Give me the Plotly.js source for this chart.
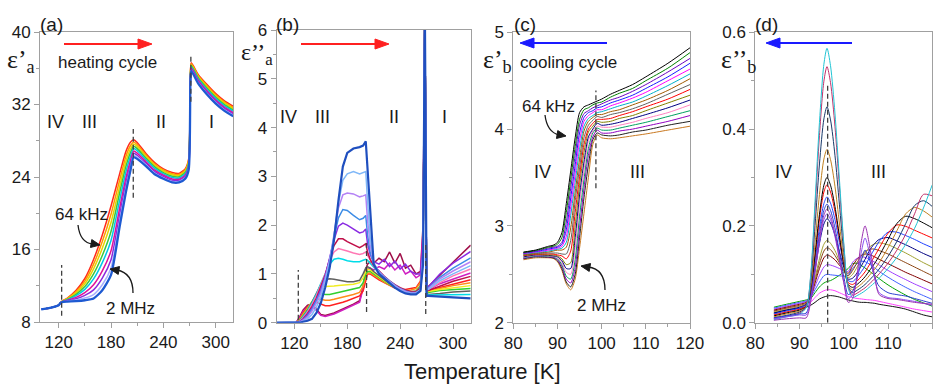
<!DOCTYPE html>
<html><head><meta charset="utf-8">
<script src="https://cdn.plot.ly/plotly-3.0.1.min.js"></script>
<style>html,body{margin:0;padding:0;background:#fff}#chart{width:945px;height:384px}</style>
</head><body><div id="chart"></div>
<script>
// ---------- Panel (a): eps'_a, heating ----------
const tA = [100,110,120,122,124,130,140,150,160,170,180,190,197,202,206,210,220,230,240,250,258,265,269,271,272,280,290,300,310,320];
const aRed     = [9.4,9.55,9.85,10.1,10.3,10.65,11.5,12.8,14.9,17.6,20.8,24.4,26.8,27.8,28.1,27.8,26.6,25.6,24.9,24.5,24.4,24.9,26.0,35.5,36.6,35.3,34.2,33.2,32.4,31.8];
const aOrange  = [9.4,9.55,9.85,10.1,10.29,10.60,11.36,12.51,14.38,16.87,19.89,23.7,26.26,27.42,27.87,27.58,26.43,25.44,24.77,24.37,24.28,24.77,25.86,35.38,36.49,35.18,34.07,33.07,32.27,31.67];
const aYellow  = [9.4,9.55,9.85,10.1,10.28,10.55,11.21,12.22,13.87,16.14,18.98,23.0,25.72,27.03,27.64,27.37,26.26,25.29,24.64,24.24,24.16,24.64,25.71,35.26,36.38,35.06,33.94,32.94,32.14,31.54];
const aGreen   = [9.4,9.55,9.85,10.1,10.26,10.50,11.06,11.91,13.31,15.34,17.99,22.3,25.14,26.62,27.4,27.13,26.08,25.12,24.49,24.09,24.03,24.49,25.56,35.13,36.27,34.93,33.79,32.79,31.99,31.39];
const aCyan    = [9.4,9.55,9.85,10.1,10.25,10.45,10.9,11.6,12.75,14.55,17.0,21.5,24.55,26.2,27.15,26.9,25.9,24.95,24.35,23.95,23.9,24.35,25.4,35.0,36.15,34.8,33.65,32.65,31.85,31.25];
const aMagenta = [9.4,9.55,9.85,10.1,10.24,10.39,10.72,11.24,12.11,13.64,15.86,20.63,23.88,25.72,26.87,26.63,25.69,24.75,24.19,23.79,23.75,24.19,25.22,34.85,36.02,34.65,33.49,32.49,31.69,31.09];
const aPurple  = [9.4,9.55,9.85,10.1,10.22,10.34,10.56,10.93,11.55,12.84,14.87,19.88,23.29,25.3,26.62,26.4,25.51,24.59,24.04,23.64,23.62,24.04,25.06,34.72,35.9,34.52,33.34,32.34,31.54,30.94];
const aLav     = [9.4,9.55,9.85,10.1,10.21,10.29,10.42,10.64,11.03,12.11,13.96,19.18,22.75,24.92,26.39,26.18,25.34,24.43,23.91,23.51,23.5,23.91,24.92,34.6,35.79,34.4,33.21,32.21,31.41,30.81];
const aBlue    = [9.4,9.55,9.85,10.1,10.2,10.25,10.3,10.4,10.6,11.5,13.2,18.6,22.3,24.6,26.2,26.0,25.2,24.3,23.8,23.4,23.4,23.8,24.8,34.5,35.7,34.3,33.1,32.1,31.3,30.7];

// ---------- Panel (b): eps''_a, heating ----------
const tB = [100,122,126,130,135,140,145,150,155,160,165,170,175,180,187,194,198,201,203,206,210,216,222,228,234,240,246,252,258,263,266,268,270,272,285,300,320];
const bWine   = [0,0,0.12,0.26,0.36,0.38,0.28,0.17,0.15,0.17,0.2,0.24,0.28,0.32,0.38,0.45,0.75,1.1,1.2,1.25,1.22,1.32,1.25,1.45,1.22,1.42,1.12,1.18,1.0,1.05,2.0,6.5,0.75,0.74,0.98,1.24,1.59];
const bMag    = [0,0,0.1,0.23,0.33,0.35,0.25,0.15,0.13,0.15,0.18,0.22,0.26,0.3,0.36,0.42,0.7,1.02,1.1,1.12,1.08,1.15,1.1,1.22,1.08,1.18,1.0,1.06,0.92,0.98,1.9,6.5,0.7,0.68,0.8,0.9,1.02];
const bRed    = [0,0,0.07,0.2,0.32,0.4,0.42,0.38,0.35,0.35,0.37,0.4,0.42,0.45,0.5,0.55,0.65,0.9,1.0,1.0,0.95,0.88,0.82,0.76,0.71,0.68,0.68,0.7,0.72,0.85,1.6,6.5,0.68,0.66,0.72,0.8,0.88];
const bOrange = [0,0,0.06,0.18,0.3,0.42,0.48,0.48,0.46,0.46,0.48,0.5,0.52,0.55,0.58,0.62,0.75,0.95,1.02,1.02,0.97,0.9,0.83,0.77,0.72,0.68,0.66,0.67,0.7,0.82,1.5,6.5,0.66,0.64,0.7,0.76,0.82];
const bGreen  = [0,0,0.05,0.16,0.29,0.43,0.55,0.6,0.58,0.58,0.6,0.62,0.64,0.66,0.68,0.72,0.82,1.0,1.05,1.05,1.0,0.92,0.85,0.78,0.72,0.67,0.64,0.63,0.65,0.75,1.5,6.5,0.64,0.62,0.66,0.68,0.7];
const bYellow = [0,0,0.05,0.15,0.28,0.43,0.58,0.7,0.74,0.74,0.75,0.76,0.77,0.78,0.79,0.82,0.92,1.05,1.1,1.08,1.02,0.94,0.86,0.79,0.73,0.68,0.64,0.62,0.63,0.72,1.4,6.5,0.66,0.64,0.68,0.72,0.76];
const bGray   = [0,0,0.04,0.13,0.26,0.42,0.6,0.78,0.88,0.9,0.89,0.87,0.85,0.84,0.84,0.87,1.0,1.12,1.15,1.12,1.05,0.96,0.88,0.8,0.74,0.68,0.64,0.62,0.62,0.7,1.4,6.5,0.6,0.58,0.6,0.63,0.65];
const bCyan   = [0,0,0.03,0.12,0.24,0.4,0.58,0.8,1.02,1.2,1.3,1.32,1.3,1.27,1.25,1.25,1.28,1.3,1.28,1.22,1.13,1.02,0.92,0.83,0.76,0.7,0.65,0.62,0.61,0.66,1.3,6.5,0.58,0.57,0.57,0.57,0.58];
const bPink   = [0,0,0.03,0.1,0.22,0.37,0.55,0.76,1.0,1.28,1.45,1.52,1.5,1.47,1.43,1.4,1.42,1.45,1.38,1.28,1.16,1.04,0.93,0.84,0.77,0.7,0.65,0.62,0.62,0.7,1.4,6.5,0.68,0.68,0.82,0.96,1.1];
const bCrimson= [0,0,0.02,0.08,0.19,0.33,0.5,0.72,0.98,1.3,1.58,1.72,1.72,1.66,1.6,1.54,1.58,1.62,1.45,1.3,1.17,1.05,0.95,0.86,0.78,0.72,0.67,0.64,0.64,0.72,1.5,6.5,0.66,0.66,0.75,0.85,0.95];
const bPurple = [0,0,0.02,0.07,0.17,0.3,0.47,0.68,0.95,1.3,1.7,1.98,2.04,2.0,1.92,1.84,1.86,1.92,1.62,1.4,1.25,1.2,1.3,1.15,1.26,1.1,1.2,1.05,1.0,1.0,1.6,6.5,0.74,0.73,1.0,1.22,1.46];
const bBlue   = [0,0,0.01,0.06,0.14,0.27,0.44,0.64,0.92,1.28,1.75,2.15,2.32,2.3,2.2,2.11,2.14,2.2,1.8,1.45,1.2,1.05,0.94,0.85,0.77,0.7,0.65,0.62,0.62,0.68,1.5,6.5,0.72,0.71,0.93,1.12,1.33];
const bLav    = [0,0,0.01,0.05,0.12,0.24,0.4,0.6,0.9,1.27,1.78,2.35,2.62,2.66,2.64,2.58,2.6,2.62,2.1,1.6,1.22,1.04,0.93,0.84,0.76,0.69,0.64,0.61,0.61,0.67,1.4,6.5,0.7,0.7,0.9,1.06,1.25];
const bLight  = [0,0,0.01,0.03,0.08,0.17,0.32,0.52,0.84,1.24,1.78,2.45,2.92,3.05,3.1,3.05,3.08,3.1,2.5,1.75,1.22,1.02,0.92,0.82,0.74,0.67,0.62,0.6,0.6,0.68,1.3,6.5,0.68,0.68,0.86,1.0,1.17];
const bDark   = [0,0,0,0.02,0.04,0.08,0.2,0.4,0.72,1.12,1.7,2.5,3.2,3.48,3.57,3.6,3.63,3.72,3.1,2.3,1.2,1.0,0.9,0.8,0.72,0.65,0.6,0.58,0.58,0.65,1.2,6.5,0.55,0.55,0.53,0.52,0.5];

// ---------- Panel (c): eps'_b, cooling (64 kHz -> 2 MHz) ----------
const tC = [82.3,85,88,89,90,91,92,93,94,95,96,97,98,99,100,102,104,107,110,115,120];
const c00 = [2.73,2.75,2.79,2.80,2.83,2.93,3.23,3.57,3.91,4.17,4.23,4.25,4.27,4.29,4.31,4.36,4.40,4.46,4.54,4.68,4.84];
const c01 = [2.725,2.745,2.78,2.79,2.81,2.88,3.14,3.48,3.82,4.1,4.2,4.22,4.25,4.27,4.28,4.33,4.37,4.42,4.50,4.63,4.79];
const c02 = [2.72,2.74,2.77,2.78,2.79,2.83,3.04,3.39,3.73,4.04,4.16,4.19,4.22,4.24,4.26,4.30,4.33,4.39,4.46,4.59,4.73];
const c03 = [2.72,2.735,2.76,2.77,2.78,2.81,2.96,3.29,3.63,3.96,4.12,4.17,4.19,4.22,4.23,4.27,4.30,4.35,4.42,4.54,4.68];
const c04 = [2.715,2.73,2.75,2.76,2.77,2.79,2.89,3.2,3.54,3.88,4.08,4.14,4.17,4.20,4.20,4.24,4.27,4.32,4.38,4.50,4.62];
const c05 = [2.71,2.725,2.74,2.75,2.76,2.77,2.83,3.11,3.45,3.79,4.03,4.11,4.14,4.17,4.18,4.21,4.24,4.28,4.34,4.45,4.57];
const c06 = [2.705,2.72,2.73,2.74,2.75,2.75,2.78,2.98,3.35,3.69,3.98,4.08,4.12,4.15,4.15,4.18,4.20,4.25,4.30,4.40,4.52];
const c07 = [2.70,2.715,2.72,2.72,2.72,2.71,2.71,2.85,3.26,3.6,3.91,4.04,4.09,4.13,4.12,4.15,4.17,4.21,4.26,4.36,4.46];
const c08 = [2.695,2.71,2.71,2.71,2.70,2.69,2.66,2.74,3.14,3.51,3.84,4.0,4.06,4.10,4.10,4.11,4.14,4.18,4.23,4.31,4.41];
const c09 = [2.69,2.705,2.70,2.70,2.69,2.66,2.60,2.62,3.0,3.42,3.76,3.97,4.03,4.08,4.07,4.08,4.11,4.14,4.19,4.27,4.35];
const c10 = [2.68,2.70,2.695,2.69,2.68,2.64,2.56,2.56,2.88,3.32,3.66,3.92,4.0,4.06,4.04,4.05,4.07,4.11,4.15,4.22,4.30];
const c11 = [2.675,2.695,2.69,2.685,2.67,2.62,2.52,2.50,2.77,3.23,3.57,3.88,3.98,4.03,4.02,4.02,4.04,4.07,4.11,4.17,4.25];
const c12 = [2.67,2.69,2.685,2.68,2.66,2.60,2.48,2.45,2.65,3.1,3.48,3.8,3.96,4.01,3.99,3.99,4.01,4.04,4.07,4.13,4.19];
const c13 = [2.665,2.685,2.68,2.675,2.65,2.58,2.45,2.41,2.57,2.98,3.39,3.73,3.92,3.99,3.96,3.96,3.98,4.00,4.03,4.08,4.14];
const c14 = [2.66,2.68,2.675,2.67,2.64,2.56,2.42,2.37,2.50,2.88,3.29,3.63,3.89,3.96,3.94,3.93,3.94,3.97,3.99,4.04,4.08];
const c15 = [2.65,2.67,2.67,2.665,2.63,2.54,2.40,2.34,2.45,2.77,3.13,3.5,3.84,3.94,3.91,3.90,3.91,3.93,3.95,3.99,4.03];

// ---------- Panel (d): eps''_b, cooling ----------
const tD = [84.2,87,90,91.5,92.5,93.5,94.5,95.5,96.2,97,98,99,100,101,102,103,104,104.8,106,107,108,110,112,114,116,118,120];
const d00 = [0.006,0.012,0.018,0.031,0.097,0.25,0.414,0.534,0.567,0.531,0.433,0.298,0.164,0.071,0.052,0.056,0.061,0.066,0.075,0.083,0.092,0.112,0.135,0.162,0.195,0.237,0.285];
const d01 = [0.008,0.013,0.02,0.032,0.093,0.235,0.387,0.499,0.529,0.496,0.406,0.283,0.159,0.074,0.057,0.061,0.067,0.072,0.082,0.091,0.101,0.123,0.15,0.183,0.225,0.265,0.262];
const d02 = [0.01,0.015,0.022,0.032,0.083,0.201,0.328,0.421,0.446,0.419,0.346,0.245,0.145,0.075,0.062,0.067,0.073,0.079,0.09,0.1,0.111,0.137,0.168,0.205,0.242,0.252,0.24];
const d03 = [0.012,0.018,0.024,0.033,0.072,0.165,0.265,0.338,0.358,0.337,0.282,0.206,0.129,0.077,0.068,0.073,0.08,0.087,0.1,0.111,0.124,0.155,0.19,0.225,0.238,0.231,0.218];
const d04 = [0.014,0.02,0.026,0.033,0.066,0.142,0.224,0.284,0.30,0.284,0.24,0.18,0.121,0.079,0.073,0.079,0.087,0.095,0.11,0.123,0.138,0.172,0.205,0.22,0.215,0.206,0.196];
const d05 = [0.016,0.022,0.028,0.035,0.066,0.137,0.214,0.27,0.285,0.27,0.23,0.176,0.121,0.083,0.079,0.086,0.096,0.105,0.123,0.138,0.154,0.185,0.202,0.199,0.191,0.183,0.175];
const d06 = [0.018,0.024,0.03,0.037,0.064,0.128,0.196,0.246,0.26,0.247,0.213,0.166,0.12,0.087,0.085,0.094,0.106,0.117,0.138,0.153,0.168,0.187,0.187,0.18,0.172,0.163,0.155];
const d07 = [0.02,0.026,0.032,0.038,0.059,0.11,0.164,0.204,0.215,0.206,0.181,0.147,0.114,0.09,0.092,0.103,0.118,0.131,0.152,0.164,0.172,0.176,0.169,0.161,0.152,0.143,0.135];
const d08 = [0.022,0.028,0.034,0.039,0.055,0.092,0.132,0.162,0.17,0.164,0.149,0.128,0.108,0.093,0.1,0.115,0.132,0.143,0.158,0.163,0.165,0.161,0.153,0.144,0.134,0.124,0.115];
const d09 = [0.024,0.03,0.036,0.04,0.054,0.087,0.122,0.148,0.155,0.151,0.139,0.124,0.108,0.097,0.108,0.124,0.139,0.147,0.152,0.152,0.149,0.142,0.133,0.124,0.115,0.106,0.097];
const d10 = [0.026,0.032,0.038,0.042,0.054,0.082,0.112,0.134,0.14,0.137,0.13,0.119,0.109,0.102,0.118,0.131,0.139,0.142,0.14,0.136,0.131,0.122,0.113,0.104,0.096,0.088,0.08];
const d11 = [0.028,0.034,0.04,0.044,0.053,0.075,0.098,0.115,0.12,0.119,0.116,0.112,0.108,0.106,0.125,0.133,0.136,0.135,0.13,0.125,0.119,0.108,0.098,0.089,0.08,0.072,0.064];
const d12 = [0.03,0.036,0.042,0.045,0.052,0.068,0.084,0.097,0.1,0.099,0.098,0.097,0.096,0.098,0.112,0.122,0.127,0.126,0.12,0.113,0.106,0.094,0.083,0.073,0.064,0.056,0.048];
const d13 = [0.032,0.038,0.044,0.047,0.05,0.062,0.074,0.082,0.085,0.087,0.092,0.098,0.105,0.112,0.122,0.123,0.118,0.113,0.105,0.098,0.091,0.078,0.067,0.057,0.048,0.041,0.034];
const dS1 = [0.005,0.008,0.01,0.01,0.042,0.105,0.172,0.222,0.235,0.221,0.184,0.134,0.083,0.042,0.05,0.1,0.17,0.2,0.15,0.095,0.058,0.05,0.048,0.045,0.042,0.04,0.038];
const dS2 = [0.008,0.012,0.016,0.016,0.047,0.104,0.166,0.213,0.225,0.213,0.178,0.131,0.083,0.05,0.058,0.092,0.148,0.175,0.135,0.09,0.062,0.052,0.05,0.047,0.044,0.04,0.036];
const dS3 = [0.01,0.014,0.018,0.02,0.054,0.115,0.182,0.232,0.245,0.232,0.196,0.146,0.095,0.058,0.065,0.09,0.13,0.15,0.125,0.095,0.075,0.062,0.058,0.055,0.05,0.045,0.04];
const dBlk = [0.02,0.026,0.03,0.032,0.036,0.042,0.049,0.053,0.055,0.056,0.055,0.053,0.05,0.047,0.045,0.043,0.042,0.042,0.041,0.04,0.038,0.035,0.032,0.028,0.022,0.016,0.012];
const dPink = [0.024,0.03,0.034,0.036,0.042,0.052,0.061,0.066,0.068,0.068,0.066,0.062,0.058,0.054,0.052,0.05,0.049,0.048,0.047,0.046,0.044,0.04,0.036,0.032,0.028,0.025,0.022];

// ---------- styling ----------
const W = 945, H = 384;
const P = (px, py) => [px / W, 1 - py / H];
const traces = [];
function add(x, y, color, width, xa, ya, shape, smooth) {
  traces.push({type:'scatter', mode:'lines', x:x, y:y, xaxis:xa, yaxis:ya, hoverinfo:'skip',
    line:{color:color, width:width, shape:shape || 'linear', smoothing: smooth || 1}});
}
[[aRed,'#ff2a1a'],[aOrange,'#ff9a00'],[aYellow,'#e6d400'],[aGreen,'#3cc83c'],[aCyan,'#00c8e6'],
 [aMagenta,'#e0109a'],[aPurple,'#8c28dc'],[aLav,'#a8b0ff']].forEach(s => add(tA, s[0], s[1], 1.5, 'x', 'y', 'spline', 0.6));
add(tA, aBlue, '#1e5ad2', 2.3, 'x', 'y', 'spline', 0.6);

[[bWine,'#a0104a',1.5],[bMag,'#d020c0',1.5],[bRed,'#ff2020',1.5],[bOrange,'#ff8c1a',1.5],[bGreen,'#30d030',1.5],
 [bYellow,'#f0ec20',1.5],[bGray,'#606060',1.5],[bCyan,'#00dce8',1.5],[bPink,'#ff78b4',1.5],[bCrimson,'#c0104a',1.5],
 [bPurple,'#8a2be2',1.5],[bBlue,'#3c8ce6',1.5],[bLav,'#b482f5',1.5],[bLight,'#80b8f8',1.5],[bDark,'#1f4fbf',2.2]]
 .forEach(s => add(tB, s[0], s[1], s[2], 'x2', 'y2'));

const cCols = ['#000000','#008000','#6a00c0','#1a1aff','#ff00ff','#00b0c8','#a05a00','#606060','#ff0000','#808000','#000080','#ff80c0','#00a060','#9000c0','#202020','#c87820'];
[c15,c14,c13,c12,c11,c10,c09,c08,c07,c06,c05,c04,c03,c02,c01,c00].forEach((y, i) => add(tC, y, cCols[15 - i], 1.0, 'x3', 'y3', 'spline', 0.7));

[[dBlk,'#101010'],[dPink,'#ff40ff'],[d13,'#00a000'],[d12,'#4060ff'],[d11,'#a040ff'],[d10,'#800000'],[d09,'#8b4513'],
 [d08,'#a0a030'],[d07,'#000080'],[d06,'#2040ff'],[d05,'#ff0000'],[d04,'#000000'],[d03,'#c08020'],[d02,'#1a3a6a'],
 [d01,'#c0306a'],[d00,'#22c4d4'],[dS3,'#2a40d0'],[dS2,'#8a50f0'],[dS1,'#9b30b0']]
 .forEach(s => add(tD, s[0], s[1], 1.0, 'x4', 'y4', 'spline', 0.8));

const axC = '#a0a0a0';
const sans = 'Liberation Sans, Arial, sans-serif';
const tickF = {family:sans, size:17, color:'#1a1a1a'};
function ax(dom, range, t0, dt, mdt) {
  return {domain:dom, range:range, tick0:t0, dtick:dt, showline:true, mirror:true, linecolor:axC, linewidth:1,
    ticks:'outside', ticklen:5, tickcolor:axC, showgrid:false, zeroline:false, tickfont:tickF, fixedrange:true,
    minor:{ticks:'outside', ticklen:3, tickcolor:axC, dtick:mdt, tick0:t0, showgrid:false}};
}
const layout = {
  width:W, height:H, margin:{l:0, r:0, t:0, b:0}, paper_bgcolor:'#fff', plot_bgcolor:'#fff', showlegend:false,
  font:{family:sans, color:'#1a1a1a'},
  xaxis:  Object.assign(ax([40/W, 233/W], [98.6, 319.8], 120, 60, 30), {anchor:'y'}),
  yaxis:  Object.assign(ax([1-322/H, 1-32/H], [8, 40], 8, 8, 4), {anchor:'x'}),
  xaxis2: Object.assign(ax([276.7/W, 470.7/W], [100, 320], 120, 60, 30), {anchor:'y2'}),
  yaxis2: Object.assign(ax([1-322.7/H, 1-30/H], [0, 6], 0, 1, 0.5), {anchor:'x2'}),
  xaxis3: Object.assign(ax([513.3/W, 690/W], [80, 120], 80, 10, 5), {anchor:'y3'}),
  yaxis3: Object.assign(ax([1-322.7/H, 1-32.3/H], [2, 5], 2, 1, 0.5), {anchor:'x3'}),
  xaxis4: Object.assign(ax([755.3/W, 932.3/W], [80, 120], 80, 10, 5), {anchor:'y4'}),
  yaxis4: Object.assign(ax([1-322.7/H, 1-32.3/H], [0, 0.6], 0, 0.2, 0.1), {anchor:'x4', tickformat:'.1f'}),
  shapes:[], annotations:[]
};

// dashed phase-boundary markers
const dash = {color:'#404040', width:1.3, dash:'5px,3px'};
[['x','y',123.4,8.7,14.3],['x','y',205.5,21.7,29.3],['x','y',271.5,32.3,37.5],
 ['x2','y2',124.5,0.06,1.08],['x2','y2',201.9,0.22,1.66],['x2','y2',269,0.18,1.62],
 ['x3','y3',98.7,3.39,4.40],['x4','y4',96.35,0.0,0.49]].forEach(d =>
  layout.shapes.push({type:'line', xref:d[0], yref:d[1], x0:d[2], x1:d[2], y0:d[3], y1:d[4], line:dash}));

// text annotations
function txt(s, px, py, size, fam) {
  const p = P(px, py);
  layout.annotations.push({text:s, x:p[0], y:p[1], xref:'paper', yref:'paper', showarrow:false,
    xanchor:'center', yanchor:'middle', font:{size:size, family:fam || sans, color:'#1a1a1a'}});
}
const serif = 'Liberation Serif, Times New Roman, serif';
txt('(a)', 51, 25, 19); txt('(b)', 287, 24, 19); txt('(c)', 525, 25, 19); txt('(d)', 766, 25, 19);
txt('ε’<sub>a</sub>', 21, 61, 26, serif); txt('ε’’<sub>a</sub>', 257, 54, 24, serif);
txt('ε’<sub>b</sub>', 497, 61, 26, serif); txt('ε’’<sub>b</sub>', 738, 61, 26, serif);
txt('heating cycle', 107, 62, 17); txt('cooling cycle', 568, 62, 17);
txt('IV', 55, 122, 18); txt('III', 89.5, 122, 18); txt('II', 160.5, 122, 18); txt('I', 211, 122, 18);
txt('IV', 288, 117, 18); txt('III', 322, 117, 18); txt('II', 393.5, 117, 18); txt('I', 444.5, 117, 18);
txt('IV', 542, 172, 18); txt('III', 637, 172, 18); txt('IV', 783, 172, 18); txt('III', 878, 172, 18);
txt('64 kHz', 81.5, 214, 17); txt('2 MHz', 130, 308, 17); txt('64 kHz', 548, 106, 17); txt('2 MHz', 601.5, 305, 17);
txt('Temperature [K]', 483, 371, 22);

// arrows drawn as shapes: shaft + filled head
function head(tx, ty, fx, fy, len, half, color) {
  const dx = tx - fx, dy = ty - fy, n = Math.hypot(dx, dy), ux = dx / n, uy = dy / n;
  const bx = tx - ux * len, by = ty - uy * len;
  const a = P(tx, ty), b = P(bx - uy * half, by + ux * half), c = P(bx + uy * half, by - ux * half);
  layout.shapes.push({type:'path', xref:'paper', yref:'paper', fillcolor:color, line:{color:color, width:1},
    path:`M ${a[0]} ${a[1]} L ${b[0]} ${b[1]} L ${c[0]} ${c[1]} Z`});
}
function shaft(x0, y0, x1, y1, color, w) {
  const a = P(x0, y0), b = P(x1, y1);
  layout.shapes.push({type:'line', xref:'paper', yref:'paper', x0:a[0], y0:a[1], x1:b[0], y1:b[1], line:{color:color, width:w}});
}
const red = '#ff2020', blue = '#1a1aff';
shaft(64, 44, 139, 44, red, 2.2);  head(152, 44, 64, 44, 14, 5, red);
shaft(301, 44, 376, 44, red, 2.2); head(389, 44, 301, 44, 14, 5, red);
shaft(607, 43, 533, 43, blue, 2.2); head(520, 43, 607, 43, 14, 5, blue);
shaft(852, 43, 779, 43, blue, 2.2); head(766, 43, 852, 43, 14, 5, blue);

function curve(x0, y0, cx, cy, x1, y1) {
  const a = P(x0, y0), c = P(cx, cy), b = P(x1, y1);
  layout.shapes.push({type:'path', xref:'paper', yref:'paper', line:{color:'#1a1a1a', width:1.3},
    path:`M ${a[0]} ${a[1]} Q ${c[0]} ${c[1]} ${b[0]} ${b[1]}`});
}
const ink = '#1a1a1a';
curve(78, 225, 80, 243, 93, 244);   head(100, 245, 91, 243.5, 9, 4, ink);
curve(133, 293, 133, 273, 117, 270); head(110, 269, 119, 270.5, 9, 4, ink);
curve(545, 115, 547, 132, 559, 135); head(566, 136, 557, 134.5, 9, 4, ink);
curve(605, 290, 605, 269, 588, 267); head(581, 266, 590, 267.5, 9, 4, ink);

Plotly.newPlot('chart', traces, layout, {staticPlot:true, displayModeBar:false});
</script></body></html>
